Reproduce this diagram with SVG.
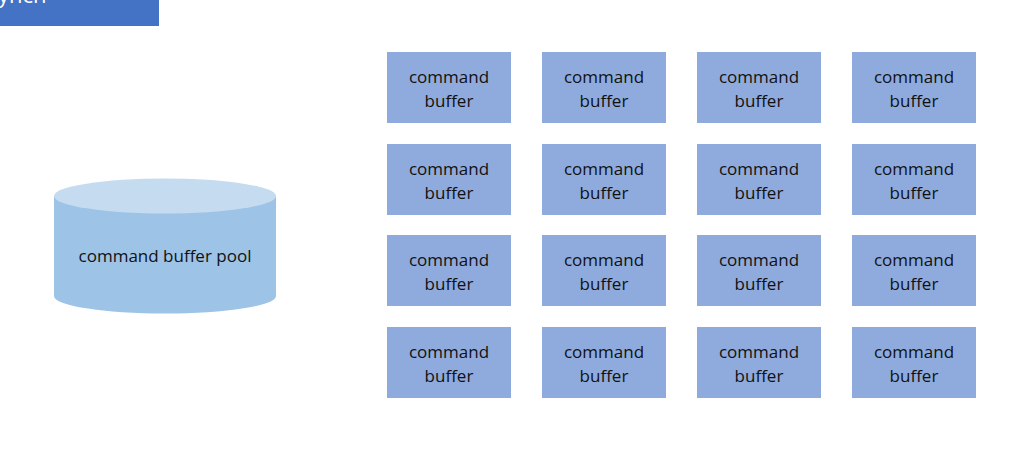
<svg xmlns="http://www.w3.org/2000/svg" width="1024" height="470" viewBox="0 0 1024 470">
<style>
.box{fill:#8faadc}
.t{font-family:"Open Sans","Liberation Sans",sans-serif;font-size:17px;fill:#111;text-anchor:middle}
</style>
<defs>
<g id="cb">
<rect class="box" x="0" y="0" width="124" height="71"/>
<text class="t" x="62" y="31">command</text>
<text class="t" x="62" y="55">buffer</text>
</g>
</defs>
<rect width="1024" height="470" fill="#fff"/>
<g id="title">
<rect x="0" y="0" width="159" height="26" fill="#4472c4"/>
<text x="-14" y="3" font-family="Open Sans,sans-serif" font-size="22" fill="#fff">Synch</text>
</g>
<g id="pool">
<path d="M54,196 L54,296 A111,17.5 0 0 0 276,296 L276,196 Z" fill="#9dc3e6"/>
<ellipse cx="165" cy="196" rx="111" ry="17.5" fill="#c5dbf0"/>
<text class="t" x="165" y="262">command buffer pool</text>
</g>
<g id="connectors"></g>
<g id="r1c1" transform="translate(387,52)"><use href="#cb"/></g>
<g id="r1c2" transform="translate(542,52)"><use href="#cb"/></g>
<g id="r1c3" transform="translate(697,52)"><use href="#cb"/></g>
<g id="r1c4" transform="translate(852,52)"><use href="#cb"/></g>
<g id="r2c1" transform="translate(387,144)"><use href="#cb"/></g>
<g id="r2c2" transform="translate(542,144)"><use href="#cb"/></g>
<g id="r2c3" transform="translate(697,144)"><use href="#cb"/></g>
<g id="r2c4" transform="translate(852,144)"><use href="#cb"/></g>
<g id="r3c1" transform="translate(387,235)"><use href="#cb"/></g>
<g id="r3c2" transform="translate(542,235)"><use href="#cb"/></g>
<g id="r3c3" transform="translate(697,235)"><use href="#cb"/></g>
<g id="r3c4" transform="translate(852,235)"><use href="#cb"/></g>
<g id="r4c1" transform="translate(387,327)"><use href="#cb"/></g>
<g id="r4c2" transform="translate(542,327)"><use href="#cb"/></g>
<g id="r4c3" transform="translate(697,327)"><use href="#cb"/></g>
<g id="r4c4" transform="translate(852,327)"><use href="#cb"/></g>
</svg>
